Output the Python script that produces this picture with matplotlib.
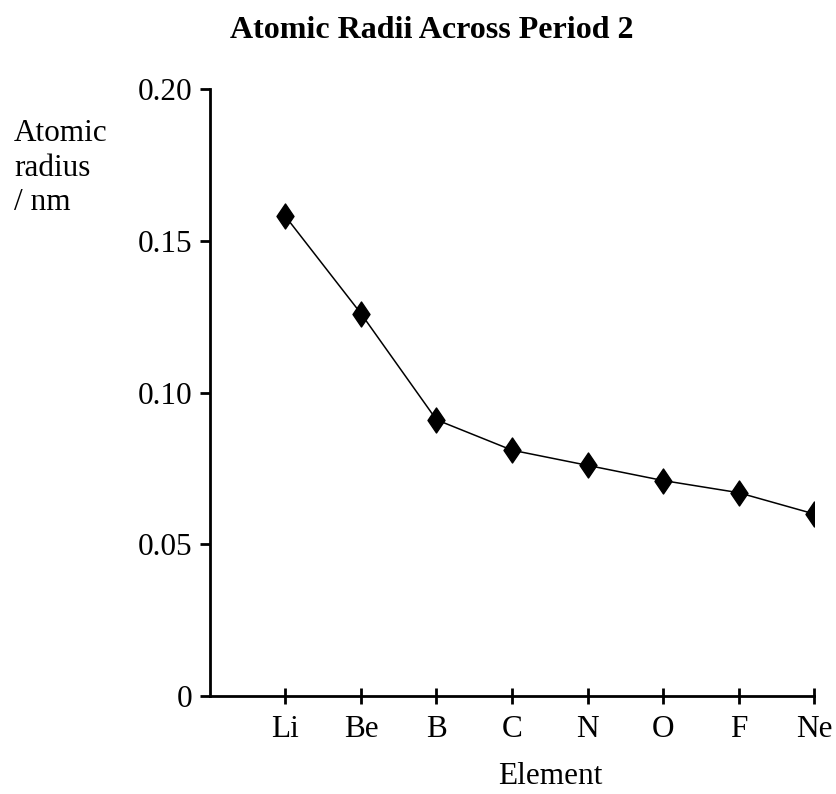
import numpy as np
import matplotlib
matplotlib.use('Agg')
import matplotlib.pyplot as plt
from matplotlib.path import Path

elements = ['Li', 'Be', 'B', 'C', 'N', 'O', 'F', 'Ne']
radius = [0.158, 0.126, 0.091, 0.081, 0.076, 0.071, 0.067, 0.060]
yticks = [0, 0.05, 0.10, 0.15, 0.20]
ytick_labels = ['0', '0.05', '0.10', '0.15', '0.20']

plt.rcParams['font.family'] = ['Liberation Serif', 'DejaVu Serif']

# tall diamond marker
diamond = Path([(0, 1), (0.68, 0), (0, -1), (-0.68, 0), (0, 1)],
               [Path.MOVETO, Path.LINETO, Path.LINETO, Path.LINETO, Path.CLOSEPOLY])

fig = plt.figure(figsize=(8.37, 7.94), dpi=100)
ax = fig.add_axes([210/837, 1 - 696/794, 604/837, 607/794])

x = np.arange(1, len(elements) + 1)
ax.plot(x, radius, color='black', linewidth=1.1, marker=diamond,
        markersize=18, markerfacecolor='black', markeredgecolor='black')

ax.set_xlim(0, 8)
ax.set_ylim(0, 0.20)
ax.set_xticks(x)
ax.set_xticklabels(elements)
ax.set_yticks(yticks)
ax.set_yticklabels(ytick_labels)

for s in ['top', 'right']:
    ax.spines[s].set_visible(False)
for s in ['left', 'bottom']:
    ax.spines[s].set_linewidth(2.0)

ax.tick_params(axis='x', direction='inout', length=11, width=2.0, labelsize=22.5, pad=8)
ax.tick_params(axis='y', direction='out', length=7, width=2.0, labelsize=22.5, pad=6)

ax.set_xlabel('Element', fontsize=22.5)
ax.xaxis.set_label_coords((550 - 210) / 604, -0.109)

fig.text(14/837, 1 - 119/794, 'Atomic\nradius\n/ nm', fontsize=22.5,
         ha='left', va='top', linespacing=1.25)

fig.text(432/837, 1 - 30/794, 'Atomic Radii Across Period 2', fontsize=23,
         fontweight='bold', ha='center', va='center')

fig.savefig('out.png', dpi=100)
